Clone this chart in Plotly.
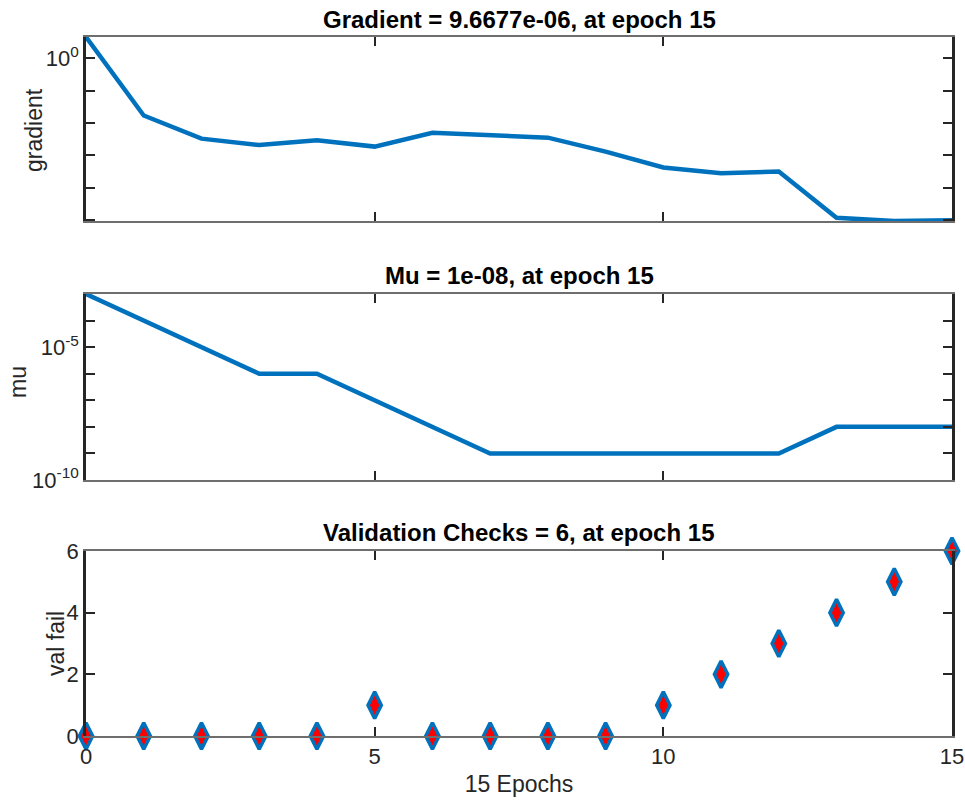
import math
import plotly.graph_objects as go
from plotly.subplots import make_subplots

# Training record, one value per epoch
epochs = list(range(16))
gradient = [4.52, 0.01686, 0.00324, 0.00206, 0.00288, 0.00184, 0.00495, 0.00401,
            0.00348, 0.00129, 0.000417, 0.000275, 0.000313, 1.15e-05, 9.2e-06, 9.6677e-06]
mu = [1e-03, 1e-04, 1e-05, 1e-06, 1e-06, 1e-07, 1e-08, 1e-09,
      1e-09, 1e-09, 1e-09, 1e-09, 1e-09, 1e-08, 1e-08, 1e-08]
val_fail = [0, 0, 0, 0, 0, 1, 0, 0, 0, 0, 1, 2, 3, 4, 5, 6]

titles = ["Gradient = 9.6677e-06, at epoch 15",
          "Mu = 1e-08, at epoch 15",
          "Validation Checks = 6, at epoch 15"]
y_labels = ["gradient", "mu", "val fail"]
x_ticks = [0, 5, 10, 15]
grad_tickvals = [1e0]
grad_ticktext = ["10<sup>0</sup>"]
grad_minor = [1e-1, 1e-2, 1e-3, 1e-4, 1e-5]
mu_tickvals = [1e-10, 1e-5]
mu_ticktext = ["10<sup>-10</sup>", "10<sup>-5</sup>"]
mu_minor = [1e-9, 1e-8, 1e-7, 1e-6, 1e-4, 1e-3]
vf_ticks = [0, 2, 4, 6]

BLUE = "#0072BD"
DARK = "#262626"
FONT = "Liberation Sans, Arial, Helvetica, sans-serif"

W, H = 965, 800
ML, MR = 86, 13

fig = make_subplots(rows=3, cols=1)

fig.add_trace(go.Scatter(x=epochs, y=gradient, mode="lines",
                         line=dict(color=BLUE, width=4.5), cliponaxis=False),
              row=1, col=1)
fig.add_trace(go.Scatter(x=epochs, y=mu, mode="lines",
                         line=dict(color=BLUE, width=4.5), cliponaxis=False),
              row=2, col=1)
fig.add_trace(go.Scatter(x=epochs, y=val_fail, mode="markers",
                         marker=dict(symbol="diamond-tall", size=19, color="red",
                                     line=dict(color=BLUE, width=3.5)),
                         cliponaxis=False),
              row=3, col=1)

domains = [[1 - 221 / H, 1 - 37 / H],
           [1 - 480 / H, 1 - 294 / H],
           [1 - 736 / H, 1 - 551 / H]]

tick_style = dict(ticks="inside", ticklen=9, tickwidth=2, tickcolor=DARK)
common_x = dict(range=[0, 15], tickvals=x_ticks, showline=True,
                linecolor="#6e6e6e", linewidth=1.5, mirror="ticks",
                showgrid=False, zeroline=False, automargin=False,
                tickfont=dict(family=FONT, size=22, color=DARK), **tick_style)
common_y = dict(showline=True, linecolor=DARK, linewidth=2.5, mirror="ticks",
                showgrid=False, zeroline=False, automargin=False,
                tickfont=dict(family=FONT, size=22, color=DARK), **tick_style)

for i in range(3):
    ax = "" if i == 0 else str(i + 1)
    fig.layout["xaxis" + ax].update(domain=[0, 1], showticklabels=(i == 2),
                                    **common_x)
    fig.layout["yaxis" + ax].update(domain=domains[i], **common_y)

label_font = dict(family=FONT, size=23, color=DARK)

fig.layout.yaxis.update(
    type="log",
    range=[math.log10(min(gradient)), math.log10(max(gradient))],
    tickvals=grad_tickvals, ticktext=grad_ticktext,
    minor=dict(tickvals=grad_minor, showgrid=False, **tick_style))
fig.layout.yaxis2.update(
    type="log", range=[-10, -3],
    tickvals=mu_tickvals, ticktext=mu_ticktext,
    minor=dict(tickvals=mu_minor, showgrid=False, **tick_style))
fig.layout.yaxis3.update(range=[0, 6], tickvals=vf_ticks)
fig.layout.xaxis3.update(title=dict(text="15 Epochs", standoff=8, font=label_font))

# y-axis labels, rotated, placed beside each panel (pixel positions -> paper)
label_pos = [(34, 130), (18, 382), (56, 644)]
for text, (px, py) in zip(y_labels, label_pos):
    fig.add_annotation(text=text, x=(px - ML) / (W - ML - MR), y=1 - py / H,
                       xref="paper", yref="paper", showarrow=False,
                       textangle=-90, xanchor="center", yanchor="middle",
                       font=label_font)

title_y = [1 - 19 / H, 1 - 275 / H, 1 - 532 / H]
for t, yy in zip(titles, title_y):
    fig.add_annotation(text="<b>" + t + "</b>", x=0.5, y=yy, xref="paper",
                       yref="paper", showarrow=False, yanchor="middle",
                       font=dict(family=FONT, size=24, color="black"))

fig.update_layout(width=W, height=H, showlegend=False,
                  paper_bgcolor="white", plot_bgcolor="white",
                  margin=dict(l=ML, r=MR, t=0, b=0))

fig.write_html("out.html")
